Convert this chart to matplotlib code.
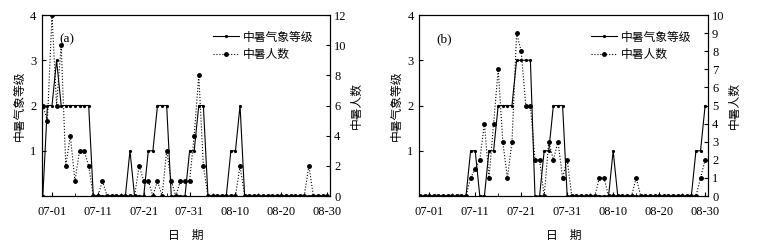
import numpy as np
import matplotlib
matplotlib.use('Agg')
import matplotlib.pyplot as plt

plt.rcParams['font.family'] = ['Liberation Serif', 'Noto Sans CJK SC', 'DejaVu Sans']

# days relative to 07-01 (06-29 .. 08-30)
days = list(range(-2, 61))
tick_days = [0, 10, 20, 30, 40, 50, 60]
tick_labels = ['07-01', '07-11', '07-21', '07-31', '08-10', '08-20', '08-30']

# (a)
level_a = [0, 2, 2, 3, 2, 2, 2, 2, 2, 2, 2, 0, 0, 0, 0, 0, 0, 0, 0, 1,
           0, 0, 0, 1, 1, 2, 2, 2, 0, 0, 0, 0, 1, 1, 2, 2, 0, 0, 0, 0,
           0, 1, 1, 2, 0, 0, 0, 0, 0, 0, 0, 0, 0, 0, 0, 0, 0, 0, 0, 0,
           0, 0, 0]
count_a = [6, 5, 12, 6, 10, 2, 4, 1, 3, 3, 2, 0, 0, 1, 0, 0, 0, 0, 0, 0,
           0, 2, 1, 1, 0, 1, 0, 3, 1, 0, 1, 1, 1, 4, 8, 2, 0, 0, 0, 0,
           0, 0, 0, 2, 0, 0, 0, 0, 0, 0, 0, 0, 0, 0, 0, 0, 0, 0, 2, 0,
           0, 0, 0]

# (b)
level_b = [0, 0, 0, 0, 0, 0, 0, 0, 0, 0, 0, 1, 1, 0, 0, 1, 1, 2, 2, 2,
           2, 3, 3, 3, 3, 0, 0, 1, 1, 2, 2, 2, 0, 0, 0, 0, 0, 0, 0, 0,
           0, 0, 1, 0, 0, 0, 0, 0, 0, 0, 0, 0, 0, 0, 0, 0, 0, 0, 0, 0,
           1, 1, 2]
count_b = [0, 0, 0, 0, 0, 0, 0, 0, 0, 0, 0, 1, 1.5, 2, 4, 1, 4, 7, 3, 1,
           3, 9, 8, 5, 5, 2, 2, 0, 3, 2, 3, 1, 2, 0, 0, 0, 0, 0, 0, 1,
           1, 0, 0, 0, 0, 0, 0, 1, 0, 0, 0, 0, 0, 0, 0, 0, 0, 0, 0, 0,
           0, 1, 2]

fig = plt.figure(figsize=(7.62, 2.42), dpi=100)

def panel(rect, level, count, rmax, rticks, tag):
    ax = fig.add_axes(rect)
    ax2 = ax.twinx()
    l1, = ax.plot(days, level, '-', color='black', lw=0.8, marker='o', ms=1.3)
    l2, = ax2.plot(days, count, ':', color='black', lw=0.8, marker='o', ms=2.5)
    ax.set_xlim(-2.2, 60.6)
    ax.set_ylim(0, 4)
    ax2.set_ylim(0, rmax)
    ax.set_yticks([1, 2, 3, 4])
    ax2.set_yticks(rticks)
    ax.set_xticks(tick_days)
    ax.set_xticklabels(tick_labels)
    ax.set_xticks(range(5, 60, 10), minor=True)
    ax.tick_params(direction='in', labelsize=9, length=3, pad=4)
    ax.tick_params(axis='x', which='major', pad=7)
    ax.tick_params(axis='x', which='minor', direction='in', length=2)
    ax2.tick_params(direction='in', labelsize=9, length=3, pad=3)
    ax.set_ylabel('中暑气象等级', fontsize=8.5, labelpad=3)
    ax2.set_ylabel('中暑人数', fontsize=8.5, labelpad=3)
    ax.set_xlabel('日    期', fontsize=8.5, labelpad=9)
    ax.text(0.06, 0.90, tag, transform=ax.transAxes, fontsize=9.5, va='top')
    ax2.legend([l1, l2], ['中暑气象等级', '中暑人数'], loc='upper right',
               frameon=False, fontsize=8.5, handlelength=2.2, handletextpad=0.3,
               borderaxespad=1.0, labelspacing=0.45)
    return ax

panel([0.055, 0.19, 0.378, 0.748], level_a, count_a, 12, range(0, 13, 2), '(a)')
panel([0.55, 0.19, 0.379, 0.748], level_b, count_b, 10, range(0, 11), '(b)')

fig.savefig('out.png', dpi=100)
